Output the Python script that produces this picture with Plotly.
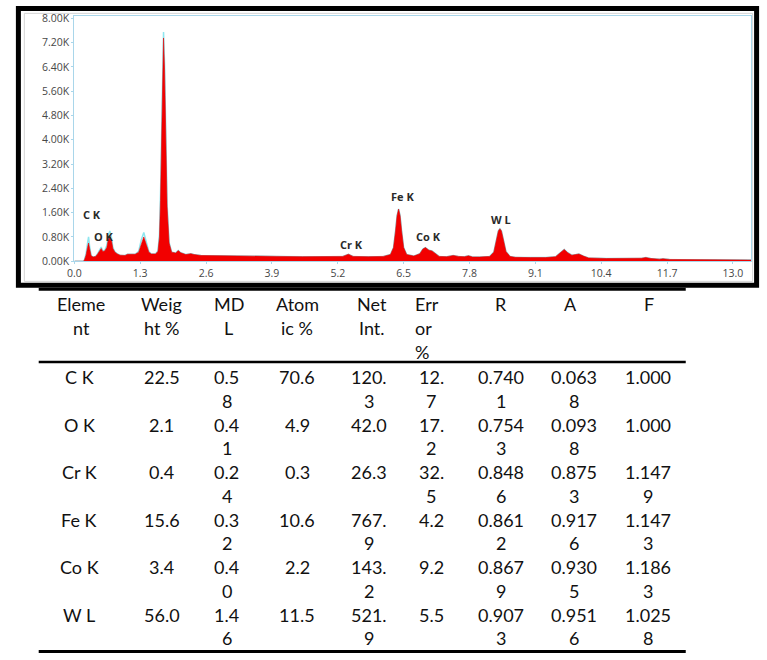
import plotly.graph_objects as go

# ---------------- data: EDS spectrum (energy keV, counts in thousands) ----------------
energy = [0.00, 0.18, 0.20, 0.23, 0.26, 0.28, 0.30, 0.33, 0.37, 0.42, 0.46, 0.50, 0.53, 0.56,
          0.60, 0.64, 0.67, 0.70, 0.73, 0.76, 0.80, 0.85, 0.90, 1.00, 1.05, 1.10, 1.20, 1.27,
          1.32, 1.37, 1.42, 1.47, 1.52, 1.60, 1.65, 1.68, 1.70, 1.72, 1.74, 1.76, 1.78, 1.80,
          1.83, 1.87, 1.92, 2.00, 2.05, 2.10, 2.20, 2.30, 2.36, 2.50, 2.80, 3.20, 3.60, 4.00,
          4.50, 5.00, 5.30, 5.41, 5.50, 5.80, 6.10, 6.24, 6.30, 6.34, 6.37, 6.40, 6.43, 6.46,
          6.50, 6.56, 6.70, 6.82, 6.88, 6.93, 7.00, 7.06, 7.12, 7.20, 7.35, 7.48, 7.58, 7.70,
          7.78, 7.86, 8.00, 8.20, 8.28, 8.33, 8.37, 8.40, 8.43, 8.47, 8.52, 8.60, 8.70, 9.00,
          9.30, 9.50, 9.60, 9.67, 9.74, 9.82, 9.90, 9.96, 10.05, 10.15, 10.50, 11.00, 11.20,
          11.28, 11.38, 11.55, 11.62, 11.75, 12.50, 13.36]

counts_fit = [0.00, 0.00, 0.05, 0.20, 0.45, 0.60, 0.42, 0.18, 0.14, 0.16, 0.24, 0.36, 0.42, 0.32,
              0.34, 0.45, 0.72, 0.85, 0.70, 0.42, 0.30, 0.24, 0.20, 0.19, 0.23, 0.23, 0.23, 0.30,
              0.58, 0.80, 0.55, 0.30, 0.24, 0.24, 0.32, 0.80, 2.00, 3.80, 6.20, 7.35, 6.30, 4.00,
              1.80, 0.60, 0.30, 0.27, 0.35, 0.28, 0.22, 0.25, 0.22, 0.19, 0.18, 0.17, 0.16, 0.16,
              0.15, 0.15, 0.16, 0.23, 0.16, 0.15, 0.16, 0.22, 0.45, 1.00, 1.50, 1.72, 1.50, 1.00,
              0.45, 0.22, 0.17, 0.25, 0.40, 0.45, 0.36, 0.34, 0.25, 0.16, 0.15, 0.19, 0.16, 0.15,
              0.18, 0.14, 0.14, 0.16, 0.30, 0.70, 1.00, 1.07, 1.00, 0.70, 0.32, 0.16, 0.13, 0.12,
              0.12, 0.15, 0.30, 0.39, 0.28, 0.20, 0.22, 0.24, 0.17, 0.11, 0.09, 0.08, 0.10,
              0.12, 0.09, 0.07, 0.08, 0.06, 0.05, 0.04]

counts_meas = [0.00, 0.00, 0.05, 0.24, 0.60, 0.80, 0.50, 0.19, 0.14, 0.16, 0.25, 0.40, 0.47, 0.34,
               0.36, 0.52, 0.85, 1.00, 0.80, 0.45, 0.31, 0.24, 0.20, 0.19, 0.23, 0.23, 0.23, 0.33,
               0.70, 0.95, 0.62, 0.32, 0.24, 0.24, 0.34, 0.88, 2.20, 4.10, 6.45, 7.55, 6.50, 4.20,
               1.90, 0.62, 0.30, 0.27, 0.35, 0.28, 0.22, 0.25, 0.22, 0.19, 0.18, 0.17, 0.16, 0.16,
               0.15, 0.15, 0.16, 0.23, 0.16, 0.15, 0.16, 0.22, 0.45, 1.00, 1.50, 1.72, 1.50, 1.00,
               0.45, 0.22, 0.17, 0.25, 0.40, 0.45, 0.36, 0.34, 0.25, 0.16, 0.15, 0.19, 0.16, 0.15,
               0.18, 0.14, 0.14, 0.16, 0.30, 0.70, 1.00, 1.07, 1.00, 0.70, 0.32, 0.16, 0.13, 0.12,
               0.12, 0.15, 0.30, 0.39, 0.28, 0.20, 0.22, 0.24, 0.17, 0.11, 0.09, 0.08, 0.10,
               0.12, 0.09, 0.07, 0.08, 0.06, 0.05, 0.04]

peak_labels = ["C K", "O K", "Cr K", "Fe K", "Co K", "W L"]
peak_x = [0.35, 0.59, 5.47, 6.48, 6.99, 8.43]
peak_y = [1.55, 0.80, 0.56, 2.14, 0.80, 1.37]

x_ticks = [0.0, 1.3, 2.6, 3.9, 5.2, 6.5, 7.8, 9.1, 10.4, 11.7, 13.0]
y_ticks = [0.0, 0.8, 1.6, 2.4, 3.2, 4.0, 4.8, 5.6, 6.4, 7.2, 8.0]

# ---------------- data: quantification table ----------------
headers = [["Eleme", "nt"], ["Weig", "ht %"], ["MD", "L"], ["Atom", "ic %"], ["Net", "Int."],
           ["Err", "or", "%"], ["R"], ["A"], ["F"]]
element = ["C K", "O K", "Cr K", "Fe K", "Co K", "W L"]
weight_pct = ["22.5", "2.1", "0.4", "15.6", "3.4", "56.0"]
mdl = ["0.58", "0.41", "0.24", "0.32", "0.40", "1.46"]
atomic_pct = ["70.6", "4.9", "0.3", "10.6", "2.2", "11.5"]
net_int = ["120.3", "42.0", "26.3", "767.9", "143.2", "521.9"]
error_pct = ["12.7", "17.2", "32.5", "4.2", "9.2", "5.5"]
r_factor = ["0.7401", "0.7543", "0.8486", "0.8612", "0.8679", "0.9073"]
a_factor = ["0.0638", "0.0938", "0.8753", "0.9176", "0.9305", "0.9516"]
f_factor = ["1.000", "1.000", "1.1479", "1.1473", "1.1863", "1.0258"]

columns = [element, weight_pct, mdl, atomic_pct, net_int, error_pct, r_factor, a_factor, f_factor]
wrap_chars = [10, 4, 3, 4, 4, 3, 5, 5, 5]

# ---------------- layout constants (pixels) ----------------
W, H = 767, 660
def px(x):
    return x / W
def py(y):
    return 1 - y / H

col_x = [73, 156, 222, 293, 365, 428, 499, 572, 647]
head_x = [75, 156, 224, 293, 368, 410, 499, 569, 648]
head_y = [305, 329, 353]
row_y0, row_dy, line_dy = 379, 48.4, 24.2

fig = go.Figure()
fig.add_trace(go.Scatter(x=energy, y=counts_meas, mode="lines",
                         line=dict(color="#8fe6ef", width=1.5), hoverinfo="skip", showlegend=False))
fig.add_trace(go.Scatter(x=energy, y=counts_fit, mode="lines", fill="tozeroy",
                         fillcolor="#f20000", line=dict(color="#e80000", width=0.6),
                         showlegend=False))

annotations = []
for t, x, y in zip(peak_labels, peak_x, peak_y):
    annotations.append(dict(x=x, y=y, xref="x", yref="y", text="<b>" + t + "</b>", showarrow=False,
                            font=dict(family="Open Sans", size=11, color="#2a2a2a")))

table_font = dict(family="Lato", size=18, color="#111111")
for ci, h in enumerate(headers):
    for li, line in enumerate(h):
        annotations.append(dict(x=px(head_x[ci]), y=py(head_y[li]), xref="paper", yref="paper",
                                text=line, showarrow=False, font=table_font,
                                xanchor="left" if ci == 5 else "center", yanchor="middle"))

for ci, col in enumerate(columns):
    n = wrap_chars[ci]
    for ri, val in enumerate(col):
        parts = [val[i:i + n] for i in range(0, len(val), n)]
        for li, line in enumerate(parts):
            annotations.append(dict(x=px(col_x[ci]), y=py(row_y0 + ri * row_dy + li * line_dy),
                                    xref="paper", yref="paper", text=line, showarrow=False,
                                    font=table_font, xanchor="center", yanchor="middle"))

shapes = [
    # light grey chart container
    dict(type="rect", xref="paper", yref="paper", x0=px(17.5), x1=px(752.5), y0=py(281.5), y1=py(8.5),
         line=dict(color="#d4d4d4", width=1)),
    # thick black frame
    dict(type="rect", xref="paper", yref="paper", x0=px(11.5), x1=px(756.5), y0=py(285.5), y1=py(3.5),
         line=dict(color="black", width=5)),
    # table rules
    dict(type="line", xref="paper", yref="paper", x0=px(32), x1=px(685), y0=py(289.5), y1=py(289.5),
         line=dict(color="black", width=3)),
    dict(type="line", xref="paper", yref="paper", x0=px(32), x1=px(685), y0=py(363.5), y1=py(363.5),
         line=dict(color="black", width=2.5)),
    dict(type="line", xref="paper", yref="paper", x0=px(32), x1=px(685), y0=py(658.5), y1=py(658.5),
         line=dict(color="black", width=3)),
]

axis_line = "#a9d6ea"
tick_font = dict(family="Open Sans", size=10.5, color="#474747")
fig.update_layout(
    width=W, height=H, autosize=False,
    margin=dict(l=0, r=0, t=0, b=0),
    paper_bgcolor="white", plot_bgcolor="white",
    xaxis=dict(domain=[px(68), px(751)], range=[0, 13.36], tickvals=x_ticks,
               ticktext=["%.1f" % v for v in x_ticks], showgrid=False, zeroline=False,
               showline=True, linecolor=axis_line, linewidth=1, mirror=True,
               ticks="outside", ticklen=2, tickcolor=axis_line, tickfont=tick_font),
    yaxis=dict(domain=[py(261), py(11)], range=[0, 8.08], tickvals=y_ticks,
               ticktext=["%.2fK" % v for v in y_ticks], showgrid=False, zeroline=False,
               showline=True, linecolor=axis_line, linewidth=1, mirror=True,
               ticks="outside", ticklen=2, tickcolor=axis_line, tickfont=tick_font),
    annotations=annotations,
    shapes=shapes,
    showlegend=False,
)

fig.write_html("out.html")
